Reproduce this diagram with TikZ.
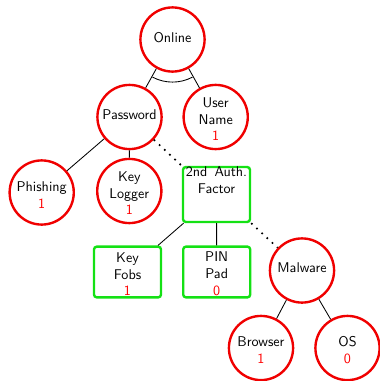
\documentclass[tikz,border=0pt]{standalone}
\usetikzlibrary{calc}
\definecolor{tred}{RGB}{240,0,0}
\definecolor{tgreen}{RGB}{20,225,20}
\tikzset{
  attack/.style={circle, draw=tred, line width=1.7pt, minimum size=45.5pt, inner sep=0pt, align=center, font=\sffamily},
  defense/.style={rectangle, rounded corners=2pt, draw=tgreen, line width=1.7pt, minimum width=47.5pt, minimum height=36pt, inner sep=0pt, align=center, font=\sffamily},
  edge/.style={line width=0.6pt},
  counter/.style={line width=1.2pt, dash pattern=on 1.2pt off 3.8pt},
}
\newcommand{\num}[1]{\textcolor{red}{#1}}
\newcommand{\up}[1]{\raisebox{3.5pt}{#1}}
\newcommand{\tpad}{\rule{0pt}{10pt}}
\begin{document}
\begin{tikzpicture}[x=0.709pt,y=-0.709pt]
\useasboundingbox (0,0) rectangle (380,381);
\node[attack] (online) at (172.5,39.5) {\up{Online}};
\node[attack] (password) at (129.5,117) {\up{Password}};
\node[attack] (user) at (215.7,117) {\tpad User\\Name\\\num{1}};
\node[attack] (phishing) at (41.7,192.5) {\tpad Phishing\\\num{1}};
\node[attack] (keylogger) at (129.3,191) {\tpad Key\\Logger\\\num{1}};
\node[defense] (auth) at (216.5,194.5) {2nd \,Auth.\\Factor\\[8pt]};
\node[defense] (fobs) at (127.5,272) {\tpad Key\\Fobs\\\num{1}};
\node[defense] (pin) at (216.7,272) {\tpad PIN\\Pad\\\num{0}};
\node[attack] (malware) at (302,270.5) {\up{Malware}};
\node[attack] (browser) at (261,348) {\tpad Browser\\\num{1}};
\node[attack] (os) at (347.5,348) {\tpad OS\\\num{0}};
\draw[edge] (online) -- (password);
\draw[edge] (online) -- (user);
\draw[edge] ([shift={(242:30.2pt)}]online.center) arc[start angle=242, end angle=298, radius=30.2pt];
\draw[edge] (password) -- (phishing);
\draw[edge] (password) -- (keylogger);
\draw[counter] (password) -- (auth.north west);
\draw[edge] (auth) -- (fobs);
\draw[edge] (auth) -- (pin);
\draw[counter] (auth.south east) -- (malware);
\draw[edge] (malware) -- (browser);
\draw[edge] (malware) -- (os);
\end{tikzpicture}
\end{document}
